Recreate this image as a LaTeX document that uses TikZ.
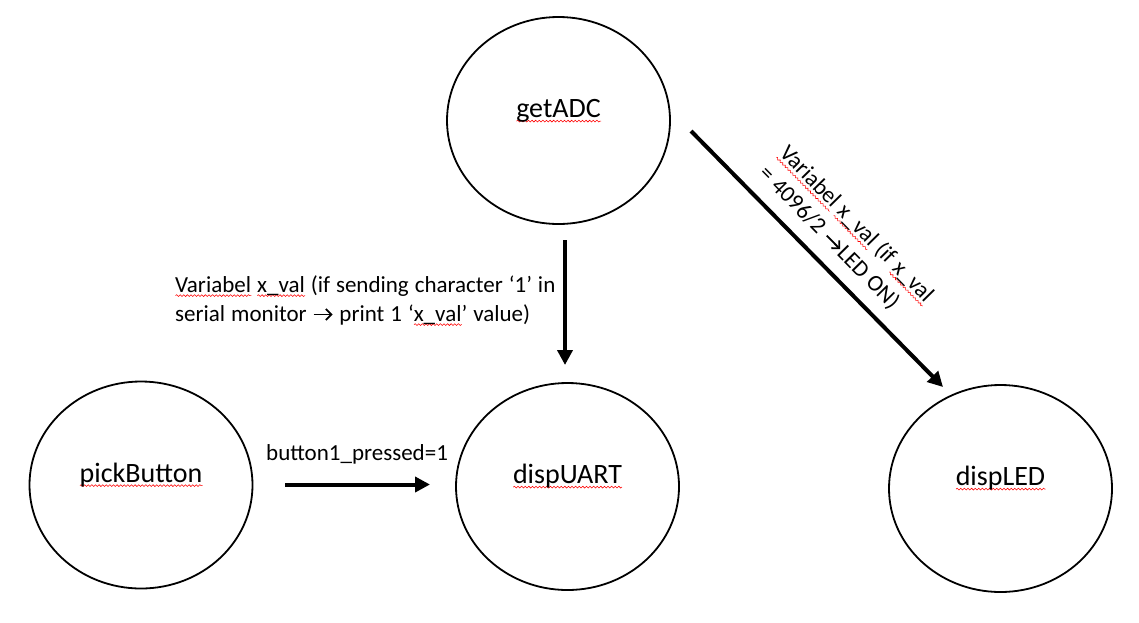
\documentclass[tikz,border=0pt]{standalone}
\usepackage{fontspec}
\setmainfont{Carlito}
\usetikzlibrary{shapes.geometric,arrows.meta,decorations.pathmorphing}
\newlength\sqw
\newcommand\sq[1]{\settowidth\sqw{#1}\rlap{\tikz[baseline=0pt]\draw[red,line width=0.55pt,decorate,decoration={snake,amplitude=0.9pt,segment length=3.6pt}] (0pt,-3.6pt) -- (\sqw,-3.6pt);}#1}
\newcommand\arr{\tikz[baseline=0pt]\draw[black,line width=1.8pt,-{Straight Barb[length=5.5pt,width=11pt]}] (0pt,6.5pt) -- (19pt,6.5pt);}
\newcommand\fixsp{\spaceskip=0.26em\relax\xspaceskip=0.26em\relax}
\tikzset{
  state/.style={ellipse, draw, line width=1.8pt, minimum width=223pt, minimum height=207pt,
    inner sep=0pt, font=\fontsize{28}{34}\selectfont, text height=8pt, text depth=14pt},
  flow/.style={line width=4pt, -{Triangle[length=15pt,width=15pt]}},
  lab/.style={inner sep=0pt, font=\fontsize{23}{29}\selectfont, align=left, anchor=base west},
}
\begin{document}
\begin{tikzpicture}[x=1pt,y=-1pt]
\useasboundingbox (0,0) rectangle (1139,622);
\node[state] (getADC) at (558.5,120.5) {\sq{getADC}};
\node[state] (pickButton) at (141,485) {\sq{pickButton}};
\node[state] (dispUART) at (567.5,486.5) {\sq{dispUART}};
\node[state] (dispLED) at (1000.5,488.5) {\sq{dispLED}};
\coordinate (vS) at (565,240);
\coordinate (vE) at (565,365);
\coordinate (hS) at (285,484.5);
\coordinate (hE) at (430,484.5);
\coordinate (dS) at (691,131);
\coordinate (dE) at (943,387);
\draw[flow] (vS) -- (vE);
\draw[flow] (hS) -- (hE);
\draw[flow] (dS) -- (dE);
\node[lab, text width=420pt] (uartLabel) at (175,292)
  {\fixsp\sq{Variabel} \sq{x\_val} (if sending character ‘1’ in\\serial monitor \arr{} print 1 ‘\sq{x\_val}’ value)};
\node[lab] (buttonLabel) at (266,460) {button1\_pressed=1};
\node[lab, rotate=-45.5, text width=240pt] (ledLabel) at (778.5,154.4)
  {\fixsp\sq{Variabel} \sq{x\_val} (if \sq{x\_val}\\= 4096/2 \arr{}LED ON)};
\end{tikzpicture}
\end{document}
